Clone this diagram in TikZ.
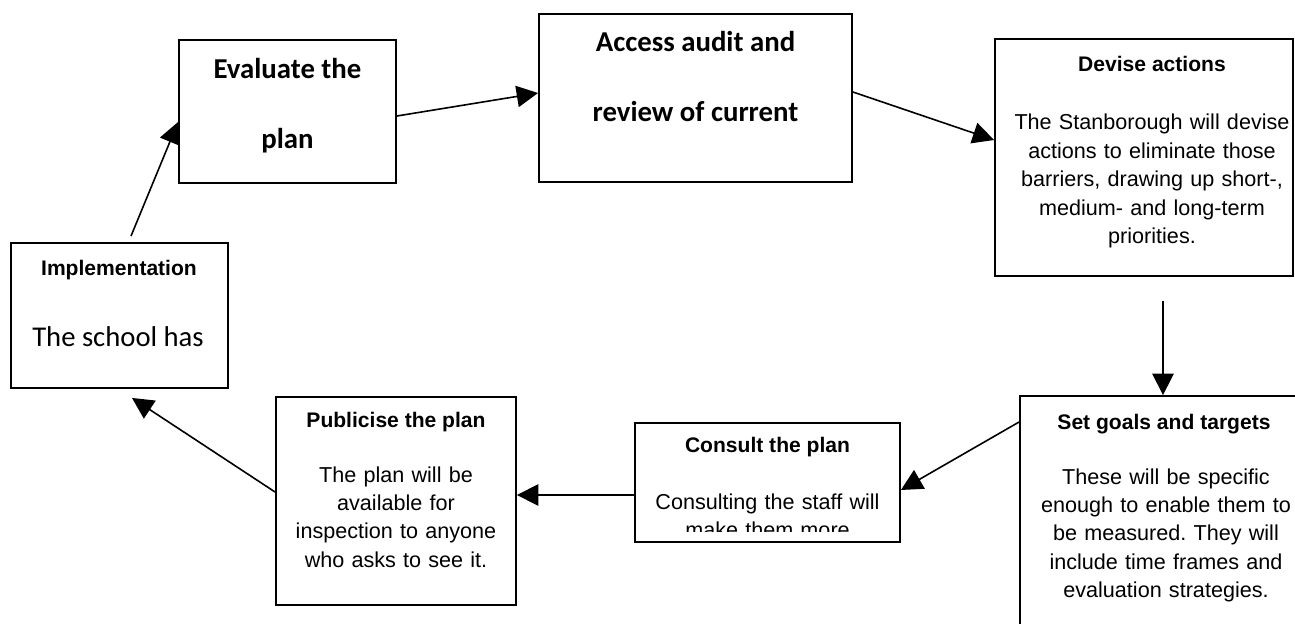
\documentclass[tikz,border=0pt]{standalone}
\usepackage{fontspec}
\setmainfont{Liberation Sans}
\newfontfamily\calfont{Carlito}
\usetikzlibrary{arrows.meta,calc}
\frenchspacing
\begin{document}
\begin{tikzpicture}[x=0.75pt,y=-0.75pt,
  bx/.style 2 args={draw=black,line width=1.4pt,rectangle,inner sep=0,
    minimum width=#1*0.75pt,minimum height=#2*0.75pt},
  ttl/.style={font=\fontsize{15.8pt}{19pt}\selectfont\bfseries,inner sep=0,anchor=base},
  bod/.style={font=\fontsize{16.2pt}{21.3pt}\selectfont,inner sep=0,anchor=base,
    align=center,text width=300pt},
  cal/.style={font=\fontsize{21.6pt}{26pt}\selectfont\calfont\bfseries,inner sep=0,anchor=base},
  calr/.style={font=\fontsize{21.5pt}{26pt}\selectfont\calfont,inner sep=0,anchor=base},
  arr/.style={line width=1.2pt,-{Triangle[length=16pt,width=16pt]}}]
\clip (0,0) rectangle (1295,624);
\fill[white] (0,0) rectangle (1295,624);
% boxes
\node[bx={217}{145}] (impl) at (119.5,315.5) {};
\node[bx={217}{143}] (eval) at (287.5,111.5) {};
\node[bx={313}{168}] (acc) at (695.5,98) {};
\node[bx={298}{237}] (dev) at (1144,157.5) {};
\node[bx={286}{244}] (setg) at (1163,518) {};
\node[bx={265}{119}] (cons) at (767.5,482.5) {};
\node[bx={240}{208}] (pub) at (396,501) {};
% texts
\node[cal] (evalA) at (287.5,79) {Evaluate the};
\node[cal] (evalB) at (287.5,149) {plan};
\node[cal] (accA) at (695.5,52) {Access audit and};
\node[cal] (accB) at (695.5,122) {review of current};
\node[ttl] (devT) at (1152,72) {Devise actions};
\node[bod] (devB) at (1152,130) {The Stanborough will devise\\actions to eliminate those\\barriers, drawing up short-,\\medium- and long-term\\priorities.};
\node[ttl] (setT) at (1164,429) {Set goals and targets};
\node[bod] (setB) at (1166,484) {These will be specific\\enough to enable them to\\be measured. They will\\include time frames and\\evaluation strategies.};
\node[ttl] (consT) at (767.5,452) {Consult the plan};
\begin{scope}
\clip (636,424) rectangle (899,531);
\node[bod] (consB) at (767.5,509) {Consulting the staff will\\make them more};
\end{scope}
\node[ttl] (pubT) at (396,427) {Publicise the plan};
\node[bod] (pubB) at (396,482) {The plan will be\\available for\\inspection to anyone\\who asks to see it.};
\node[ttl] (implT) at (119,275) {Implementation};
\node[calr] (implB) at (118,346) {The school has};
% arrows
\draw[arr] ($(impl.north)+(11.5,-6)$) -- ($(eval.west)+(0,10.5)$);
\draw[arr] ($(eval.east)+(0,4.5)$) -- ($(acc.west)+(0,-5)$);
\draw[arr] ($(acc.east)+(0,-6)$) -- ($(dev.west)+(0,-17.5)$);
\draw[arr] ($(dev.south)+(19,24)$) -- ($(setg.north)+(0,0)$);
\draw[arr] ($(setg.west)+(0,-96)$) -- ($(cons.east)+(0,7.5)$);
\draw[arr] ($(cons.west)+(0,12.5)$) -- ($(pub.east)+(0,-6)$);
\draw[arr] ($(pub.west)+(0,-9)$) -- ($(impl.south)+(12.5,9)$);
\end{tikzpicture}
\end{document}
